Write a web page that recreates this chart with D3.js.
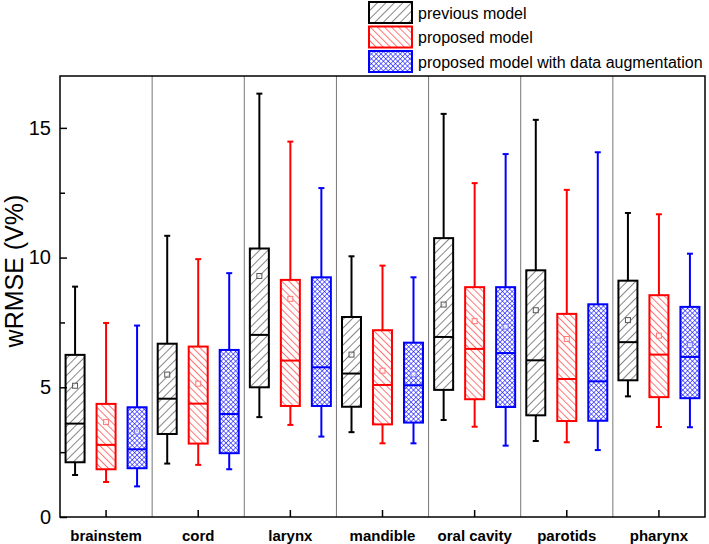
<!DOCTYPE html>
<html>
<head>
<meta charset="utf-8">
<script src="https://cdn.jsdelivr.net/npm/d3@7/dist/d3.min.js"></script>
<style>
  body { margin: 0; background: #fff; }
  svg { display: block; font-family: "Liberation Sans", Arial, sans-serif; }
</style>
</head>
<body>
<svg id="chart" width="709" height="544"></svg>
<script>
// organs on the x axis
var organs = ['brainstem', 'cord', 'larynx', 'mandible', 'oral cavity', 'parotids', 'pharynx'];
var seriesNames = ['previous model', 'proposed model', 'proposed model with data augmentation'];

// previous model
var prevLow    = [1.62, 2.06, 3.85, 3.27, 3.74, 2.93, 4.65];
var prevQ1     = [2.11, 3.20, 5.00, 4.25, 4.90, 3.92, 5.27];
var prevMedian = [3.60, 4.56, 7.02, 5.53, 6.94, 6.04, 6.74];
var prevQ3     = [6.25, 6.68, 10.35, 7.71, 10.75, 9.51, 9.11];
var prevHigh   = [8.88, 10.84, 16.32, 10.05, 15.54, 15.31, 11.72];
var prevMean   = [5.06, 5.49, 9.29, 6.26, 8.19, 7.97, 7.59];

// proposed model
var propLow    = [1.35, 2.01, 3.55, 2.84, 3.48, 2.88, 3.47];
var propQ1     = [1.84, 2.83, 4.28, 3.57, 4.54, 3.70, 4.62];
var propMedian = [2.78, 4.37, 6.03, 5.09, 6.48, 5.32, 6.26];
var propQ3     = [4.36, 6.57, 9.14, 7.20, 8.86, 7.83, 8.55];
var propHigh   = [7.48, 9.94, 14.47, 9.69, 12.87, 12.61, 11.67];
var propMean   = [3.66, 5.14, 8.41, 5.64, 7.55, 6.86, 6.99];

// proposed model with data augmentation
var augLow    = [1.18, 1.84, 3.10, 2.84, 2.75, 2.58, 3.46];
var augQ1     = [1.88, 2.46, 4.28, 3.64, 4.24, 3.71, 4.58];
var augMedian = [2.61, 3.97, 5.77, 5.08, 6.32, 5.23, 6.17];
var augQ3     = [4.23, 6.44, 9.24, 6.72, 8.86, 8.20, 8.10];
var augHigh   = [7.38, 9.40, 12.68, 9.24, 13.99, 14.06, 10.15];
var augMean   = [3.30, 4.87, 7.15, 5.50, 7.34, 6.80, 6.63];

var yMajorTicks = [0, 5, 10, 15];
var yMinorTicks = [2.5, 7.5, 12.5];

var seriesData = [
  { name: seriesNames[0], low: prevLow, q1: prevQ1, med: prevMedian, q3: prevQ3, high: prevHigh, mean: prevMean },
  { name: seriesNames[1], low: propLow, q1: propQ1, med: propMedian, q3: propQ3, high: propHigh, mean: propMean },
  { name: seriesNames[2], low: augLow, q1: augQ1, med: augMedian, q3: augQ3, high: augHigh, mean: augMean }
];

var colors = { 'previous model': '#000', 'proposed model': '#ff0000', 'proposed model with data augmentation': '#0000ff' };
var meanColors = { 'previous model': '#555', 'proposed model': '#f77', 'proposed model with data augmentation': '#77f' };
var patterns = { 'previous model': 'url(#hatchBlack)', 'proposed model': 'url(#hatchRed)', 'proposed model with data augmentation': 'url(#crossBlue)' };

var svg = d3.select('#chart');
var margin = { left: 60, right: 4, top: 76, bottom: 27 };
var W = 709, H = 544;

var x = d3.scaleBand().domain(organs).range([margin.left, W - margin.right]);
var sub = d3.scalePoint().domain(seriesNames).range([-31, 31]);
var y = d3.scaleLinear().domain([0, 17]).range([H - margin.bottom, margin.top]);
var boxW = 19;

// fill patterns
var defs = svg.append('defs');
var p1 = defs.append('pattern').attr('id', 'hatchBlack').attr('patternUnits', 'userSpaceOnUse')
  .attr('width', 6).attr('height', 6).attr('patternTransform', 'rotate(45)');
p1.append('rect').attr('width', 6).attr('height', 6).attr('fill', '#fff');
p1.append('line').attr('x1', 0).attr('y1', 0).attr('x2', 0).attr('y2', 6).attr('stroke', '#222').attr('stroke-width', 1.1);

var p2 = defs.append('pattern').attr('id', 'hatchRed').attr('patternUnits', 'userSpaceOnUse')
  .attr('width', 5).attr('height', 5).attr('patternTransform', 'rotate(-45)');
p2.append('rect').attr('width', 5).attr('height', 5).attr('fill', '#fff');
p2.append('line').attr('x1', 0).attr('y1', 0).attr('x2', 0).attr('y2', 5).attr('stroke', '#ff0000').attr('stroke-width', 1.1);

var p3 = defs.append('pattern').attr('id', 'crossBlue').attr('patternUnits', 'userSpaceOnUse')
  .attr('width', 3.4).attr('height', 3.4).attr('patternTransform', 'rotate(45)');
p3.append('rect').attr('width', 3.4).attr('height', 3.4).attr('fill', '#fff');
p3.append('line').attr('x1', 0).attr('y1', 0).attr('x2', 0).attr('y2', 3.4).attr('stroke', '#0000ff').attr('stroke-width', 1.1);
p3.append('line').attr('x1', 0).attr('y1', 0).attr('x2', 3.4).attr('y2', 0).attr('stroke', '#0000ff').attr('stroke-width', 1.1);

// separators between organs
svg.append('g').selectAll('line').data(organs.slice(1)).enter().append('line')
  .attr('x1', function (d) { return x(d); }).attr('x2', function (d) { return x(d); })
  .attr('y1', y(17)).attr('y2', y(0))
  .attr('stroke', '#777').attr('stroke-width', 1);

// boxes
seriesData.forEach(function (s) {
  var c = colors[s.name];
  var g = svg.append('g');
  organs.forEach(function (o, i) {
    var cx = x(o) + x.bandwidth() / 2 + sub(s.name);
    g.append('line').attr('x1', cx).attr('x2', cx).attr('y1', y(s.high[i])).attr('y2', y(s.q3[i]))
      .attr('stroke', c).attr('stroke-width', 2);
    g.append('line').attr('x1', cx).attr('x2', cx).attr('y1', y(s.q1[i])).attr('y2', y(s.low[i]))
      .attr('stroke', c).attr('stroke-width', 2);
    [s.high[i], s.low[i]].forEach(function (v) {
      g.append('line').attr('x1', cx - 3).attr('x2', cx + 3).attr('y1', y(v)).attr('y2', y(v))
        .attr('stroke', c).attr('stroke-width', 2);
    });
    g.append('rect').attr('x', cx - boxW / 2).attr('y', y(s.q3[i]))
      .attr('width', boxW).attr('height', y(s.q1[i]) - y(s.q3[i]))
      .attr('fill', patterns[s.name]).attr('stroke', c).attr('stroke-width', 2);
    g.append('line').attr('x1', cx - boxW / 2).attr('x2', cx + boxW / 2)
      .attr('y1', y(s.med[i])).attr('y2', y(s.med[i]))
      .attr('stroke', c).attr('stroke-width', 2);
    g.append('rect').attr('x', cx - 2.5).attr('y', y(s.mean[i]) - 2.5).attr('width', 5).attr('height', 5)
      .attr('fill', '#fff').attr('fill-opacity', 0.6).attr('stroke', meanColors[s.name]).attr('stroke-width', 1);
  });
});

// frame
svg.append('rect').attr('x', margin.left).attr('y', margin.top)
  .attr('width', W - margin.right - margin.left).attr('height', y(0) - margin.top)
  .attr('fill', 'none').attr('stroke', '#000').attr('stroke-width', 1.5);

// y axis
var yAxis = svg.append('g').attr('transform', 'translate(' + margin.left + ',0)')
  .call(d3.axisLeft(y).tickValues(yMajorTicks).tickSize(-7).tickPadding(9).tickFormat(d3.format('d')));
yAxis.select('.domain').remove();
yAxis.selectAll('line').attr('stroke-width', 1.5);
yAxis.selectAll('text').attr('font-size', 20).attr('fill', '#000').attr('font-family', '"Liberation Sans", Arial, sans-serif');

var yMinor = svg.append('g').attr('transform', 'translate(' + margin.left + ',0)')
  .call(d3.axisLeft(y).tickValues(yMinorTicks).tickSize(-5).tickFormat(''));
yMinor.select('.domain').remove();
yMinor.selectAll('line').attr('stroke-width', 1.5);

// x axis
var xAxis = svg.append('g').attr('transform', 'translate(0,' + y(0) + ')')
  .call(d3.axisBottom(x).tickSize(-7).tickPadding(13));
xAxis.select('.domain').remove();
xAxis.selectAll('line').attr('stroke-width', 1.5);
xAxis.selectAll('text').attr('font-size', 15).attr('font-weight', 'bold').attr('fill', '#000')
  .attr('font-family', '"Liberation Sans", Arial, sans-serif');

// y title
svg.append('text').attr('transform', 'translate(23,271) rotate(-90)')
  .attr('text-anchor', 'middle').attr('font-size', 25).text('wRMSE (V%)');

// legend
var legend = svg.append('g').selectAll('g').data(seriesNames).enter().append('g')
  .attr('transform', function (d, i) { return 'translate(369,' + (2 + i * 24.5) + ')'; });
legend.append('rect').attr('width', 43).attr('height', 21)
  .attr('fill', function (d) { return patterns[d]; })
  .attr('stroke', function (d) { return colors[d]; }).attr('stroke-width', 2);
legend.append('text').attr('x', 49).attr('y', 11).attr('dy', '0.35em')
  .attr('font-size', 16).text(function (d) { return d; });
</script>
</body>
</html>
